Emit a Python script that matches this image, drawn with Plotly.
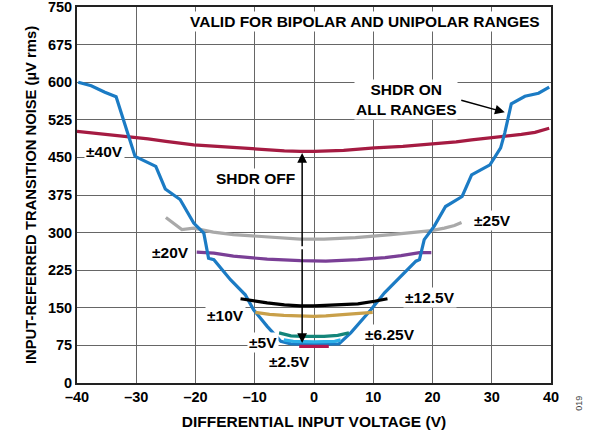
import plotly.graph_objects as go

# ---- data ----
shdr_on_x = [-39.8, -37.6, -35.3, -33.4, -30.2, -28.2, -26.7, -25.1, -22.6, -20.3, -18.6, -17.8, -16.9,
             -14.1, -11.6, -10.2, -7.9, -5.6, -3.9, 0, 4.2, 6.2, 9.6, 11.9, 15.8, 17.2, 17.8, 18.6,
             20.3, 22.2, 25.0, 26.6, 29.7, 31.5, 32.2, 33.3, 35.6, 37.9, 39.7]
shdr_on_y = [600, 593, 580, 571, 452, 440, 432, 387, 366, 319, 299, 249, 246,
             206, 176, 146, 113, 83, 78, 77, 78, 100, 146, 180, 226, 243, 246, 286,
             313, 352, 372, 415, 435, 469, 499, 557, 572, 578, 590]

r40_x = [-40, -35, -31.9, -28, -25, -20.3, -15, -10.2, -5, -2.3, 0, 5, 10.2, 15, 20.3, 24, 26.6, 30, 32.2, 35, 37.3, 39.7]
r40_y = [502, 496, 492, 487, 482, 475, 471, 467, 463, 462, 462, 464, 469, 472, 477, 481, 485, 489, 493, 496, 500, 508]

r25_x = [-25, -23.5, -22.3, -20.3, -17, -13.6, -8, -2.3, 1.7, 7, 13, 17, 19.8, 22, 23.7, 24.9]
r25_y = [330, 316, 306, 309, 301, 296, 291, 287, 287, 290, 296, 300, 304, 309, 314, 320]

r20_x = [-19.8, -16.9, -13.6, -7.9, -2.3, 2, 7.4, 12, 14.7, 17.8, 19.8]
r20_y = [261, 259, 253, 247, 244, 243, 246, 250, 254, 260, 260]

r125_x = [-12.4, -10, -7.9, -5, -2.3, 0, 3, 7.4, 10.2, 12.4]
r125_y = [168, 163, 160, 156, 154, 154, 155, 158, 163, 168]

r10_x = [-9.9, -7.5, -5.1, -2, 0, 2, 4.5, 7.5, 9.9]
r10_y = [141, 137, 135, 134, 133, 134, 136, 138, 141]

r625_x = [-5.9, -3.9, -2, 0, 1.7, 4, 5.9]
r625_y = [100, 94, 93, 93, 93, 95, 100]

r5_x = [-5.1, -3.5, 0, 3.5, 4.5]
r5_y = [86, 83, 82, 83, 86]

r25v_x = [-2.5, 0, 2.5]
r25v_y = [73, 73, 73]

x_ticks = [-40, -30, -20, -10, 0, 10, 20, 30, 40]
x_ticklabels = ["\u201340", "\u201330", "\u201320", "\u201310", "0", "10", "20", "30", "40"]
y_ticks = [0, 75, 150, 225, 300, 375, 450, 525, 600, 675, 750]

FONT = "Liberation Sans, Arial, sans-serif"

fig = go.Figure()

def add(x, y, color):
    fig.add_trace(go.Scatter(x=x, y=y, mode="lines", line=dict(color=color, width=3.2),
                             showlegend=False, hoverinfo="skip"))

add(r40_x, r40_y, "#a51b42")
add(r25_x, r25_y, "#a9a9a9")
add(r20_x, r20_y, "#7a3f96")
add(shdr_on_x, shdr_on_y, "#1b7bc4")
add(r125_x, r125_y, "#000000")
add(r10_x, r10_y, "#c9a04a")
add(r625_x, r625_y, "#14857a")
add(r5_x, r5_y, "#2db0e8")
add(r25v_x, r25v_y, "#b3184f")

labels = [
    ("\u00b140V", -35.4, 462),
    ("\u00b120V", -24.2, 260),
    ("\u00b125V", 30.2, 324),
    ("\u00b112.5V", 19.6, 171),
    ("\u00b110V", -14.9, 134),
    ("\u00b16.25V", 12.8, 96),
    ("\u00b15V", -8.6, 80),
    ("\u00b12.5V", -4.1, 42),
    ("SHDR OFF", -9.8, 408),
    ("VALID FOR BIPOLAR AND UNIPOLAR RANGES", 8.6, 721),
    ("SHDR ON<br>ALL RANGES", 15.5, 566),
]
for t, x, y in labels:
    fig.add_annotation(x=x, y=y, text=t, showarrow=False, bgcolor="white",
                       font=dict(family=FONT, size=15.5, color="black", weight="bold"),
                       borderpad=1)

# double-headed arrow (two arrows from center)
for tip in (459, 80):
    fig.add_annotation(x=-2, y=tip, ax=-2, ay=270, axref="x", ayref="y", xref="x", yref="y",
                       text="", showarrow=True, arrowhead=2, arrowsize=1.3, arrowwidth=1.5,
                       arrowcolor="black")
# SHDR ON arrow
fig.add_annotation(x=32.2, y=540, ax=24.6, ay=565, axref="x", ayref="y", text="",
                   showarrow=True, arrowhead=2, arrowsize=1.3, arrowwidth=1.5, arrowcolor="black")

fig.add_annotation(xref="paper", yref="paper", x=1.072, y=-0.08, text="019", showarrow=False,
                   textangle=-90, font=dict(family=FONT, size=9, color="#444"))

fig.update_layout(
    width=596, height=442,
    margin=dict(l=77, r=45, t=7, b=59),
    paper_bgcolor="white", plot_bgcolor="white",
    font=dict(family=FONT, color="black"),
)
fig.update_xaxes(range=[-40, 40], tickvals=x_ticks, ticktext=x_ticklabels, automargin=False,
                 ticklabeloverflow="allow",
                 showgrid=True, gridcolor="#666", gridwidth=1.2,
                 showline=True, linecolor="#222", linewidth=2, mirror=True,
                 zeroline=False, ticks="",
                 tickfont=dict(family=FONT, size=14.5, weight="bold"),
                 title=dict(text="DIFFERENTIAL INPUT VOLTAGE (V)", standoff=12,
                            font=dict(family=FONT, size=15.5, weight="bold")))
fig.update_yaxes(range=[0, 750], tickvals=y_ticks, automargin=False,
                 ticklabeloverflow="allow",
                 showgrid=True, gridcolor="#666", gridwidth=1.2,
                 showline=True, linecolor="#222", linewidth=2, mirror=True,
                 zeroline=False, ticks="",
                 tickfont=dict(family=FONT, size=14.5, weight="bold"),
                 title=dict(text="INPUT-REFERRED TRANSITION NOISE (\u00b5V rms)", standoff=8,
                            font=dict(family=FONT, size=14.8, weight="bold")))

fig.write_html("out.html", config={"displayModeBar": False},
               post_script="document.body.style.margin='0';document.body.style.overflow='hidden';")
